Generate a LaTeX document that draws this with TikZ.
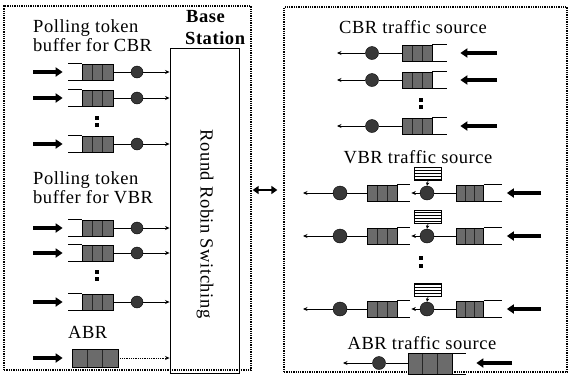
\documentclass[tikz,border=0pt]{standalone}
\usepackage{fontspec}
\setmainfont{Liberation Serif}[LetterSpace=3]
\usetikzlibrary{arrows.meta,patterns,calc}
\begin{document}
\begin{tikzpicture}[x=1pt,y=-1pt,
  lbl/.style={font=\fontsize{18.5}{20}\selectfont, inner sep=0pt},
  panel/.style={draw, densely dotted, line width=1.3pt, inner sep=0pt},
  bsbox/.style={draw, line width=0.9pt, inner sep=0pt},
  qcell/.style={draw, line width=0.7pt, fill=black!58, inner sep=0pt, minimum height=16pt,
    path picture={\foreach \f in {0.333,0.667}{\draw[black!85,line width=0.6pt]
      ($(path picture bounding box.south west)!\f!(path picture bounding box.south east)$) --
      ($(path picture bounding box.north west)!\f!(path picture bounding box.north east)$);}}},
  qline/.style={line width=0.8pt},
  dot/.style={circle, fill=black!78, draw=black, line width=0.4pt, inner sep=0pt, minimum size=#1},
  dot/.default=12pt,
  sqdot/.style={fill=black, inner sep=0pt, minimum size=3.5pt},
  conn/.style={line width=0.8pt},
  tarrow/.style={line width=0.8pt, -{Stealth[length=4.5pt,width=4pt]}},
  fat/.style={line width=4pt, -{Triangle[length=7pt,width=9pt]}},
  token/.style={draw, line width=0.7pt, pattern=horizontal lines, inner sep=0pt, minimum width=27pt, minimum height=13pt}
]
\useasboundingbox (0,0) rectangle (570,381);

% panels
\node[panel, minimum width=247pt, minimum height=364pt] (L) at (127.5,188) {};
\node[panel, minimum width=283pt, minimum height=365pt] (R) at (425.5,189.5) {};
\draw[line width=2pt, {Triangle[length=6pt,width=8pt]}-{Triangle[length=6pt,width=8pt]}, shorten <=1pt, shorten >=6pt] (L.east |- 0,190) coordinate (dl) -- (R.west |- 0,190) coordinate (dr);

% base station
\node[bsbox, minimum width=69pt, minimum height=325pt] (BS) at (204.5,210.5) {};
\node[lbl, font=\fontsize{18.5}{20}\selectfont\bfseries, anchor=base west] (base) at (186,22) {Base};
\node[lbl, font=\fontsize{18.5}{20}\selectfont\bfseries, anchor=base west] (station) at (185,44) {Station};
\node[lbl, rotate=-90] (rrs) at (205,224) {Round Robin Switching};

% left labels
\node[lbl, anchor=base west] (t1) at (33,32) {Polling token};
\node[lbl, anchor=base west] (t2) at (33,51) {buffer for CBR};
\node[lbl, anchor=base west] (t3) at (33,184) {Polling token};
\node[lbl, anchor=base west] (t4) at (33,203) {buffer for VBR};
\node[lbl, anchor=base west] (t5) at (68,338) {ABR};

% left rows
\foreach \n/\y in {a/72, b/98, c/144, d/228, e/253, f/302}{
  \node[qcell, minimum width=31pt] (lq\n) at (97.5,\y) {};
  \draw[qline] (lq\n.north west) -- ++(-14,0);
  \draw[qline] (lq\n.south west) -- ++(-14,0);
  \coordinate (lin\n) at (33,\y);
  \draw[fat, shorten >=19pt] (lin\n) -- (lq\n.west);
  \node[dot] (lc\n) at (137,\y) {};
  \draw[conn] (lq\n.east) -- (lc\n);
  \draw[tarrow] (lc\n) -- (lc\n -| BS.west);
}
\node[sqdot] (ld1) at (97,118) {};
\node[sqdot] (ld2) at (97,125) {};
\node[sqdot] (ld3) at (97,272) {};
\node[sqdot] (ld4) at (97,279) {};

% left ABR
\node[qcell, minimum width=46pt, minimum height=18pt] (laq) at (95,358) {};
\coordinate (lain) at (33,358);
\draw[fat, shorten >=9pt] (lain) -- (laq.west);
\draw[densely dotted, line width=0.8pt, -{Stealth[length=4.5pt,width=4pt]}] (laq.east) -- (laq.east -| BS.west);

% right labels
\node[lbl, anchor=base] (rt1) at (413,33) {CBR traffic source};
\node[lbl, anchor=base] (rt2) at (418,163) {VBR traffic source};
\node[lbl, anchor=base] (rt3) at (422,349) {ABR traffic source};

% right CBR rows
\foreach \n/\y in {a/53, b/80, c/126}{
  \node[qcell, minimum width=30pt] (rq\n) at (417,\y) {};
  \draw[qline] (rq\n.north east) -- ++(15,0);
  \draw[qline] (rq\n.south east) -- ++(15,0);
  \node[dot, minimum size=13pt] (rc\n) at (372,\y) {};
  \draw[conn] (rq\n.west) -- (rc\n);
  \coordinate (rout\n) at (337,\y);
  \draw[tarrow] (rc\n) -- (rout\n);
  \coordinate (rin\n) at (497,\y);
  \draw[fat, shorten >=28pt] (rin\n) -- (rq\n.east);
}
\node[sqdot] (rd1) at (421,100) {};
\node[sqdot] (rd2) at (421,107) {};

% right VBR rows
\foreach \n/\y in {a/193, b/236, c/309}{
  \node[qcell, minimum width=30pt] (va\n) at (382,\y) {};
  \draw[qline] (va\n.north east) -- ++(13,0);
  \draw[qline] (va\n.south east) -- ++(13,0);
  \node[dot, minimum size=14pt] (vc\n) at (340,\y) {};
  \draw[conn] (va\n.west) -- (vc\n);
  \coordinate (vout\n) at (303,\y);
  \draw[tarrow] (vc\n) -- (vout\n);
  \node[dot, minimum size=14pt] (vd\n) at (427,\y) {};
  \draw[tarrow, shorten >=14pt] (vd\n) -- (va\n.east);
  \node[qcell, minimum width=27pt] (vb\n) at (470,\y) {};
  \draw[qline] (vb\n.north east) -- ++(18,0);
  \draw[qline] (vb\n.south east) -- ++(18,0);
  \draw[conn] (vb\n.west) -- (vd\n);
  \node[token] (vt\n) at (428,\y-19) {};
  \draw[line width=0.7pt, -{Stealth[length=3.5pt,width=3.5pt]}] (vt\n.south) -- (vd\n.north);
  \coordinate (vin\n) at (541,\y);
  \draw[fat, shorten >=23pt] (vin\n) -- (vb\n.east);
}
\node[sqdot] (rd3) at (421,258) {};
\node[sqdot] (rd4) at (421,266) {};

% right ABR
\node[qcell, minimum width=44pt, minimum height=21pt] (raq) at (430,364) {};
\draw[qline] (raq.north east) -- ++(14,0);
\draw[qline] (raq.south east) -- ++(14,0);
\node[dot, minimum size=13pt] (rac) at (379,363) {};
\draw[conn] (raq.west |- rac) -- (rac);
\coordinate (raout) at (343,363);
\draw[tarrow] (rac) -- (raout);
\coordinate (rain) at (512,363);
\draw[fat, shorten >=24pt] (rain) -- (raq.east |- rain);
\end{tikzpicture}
\end{document}
